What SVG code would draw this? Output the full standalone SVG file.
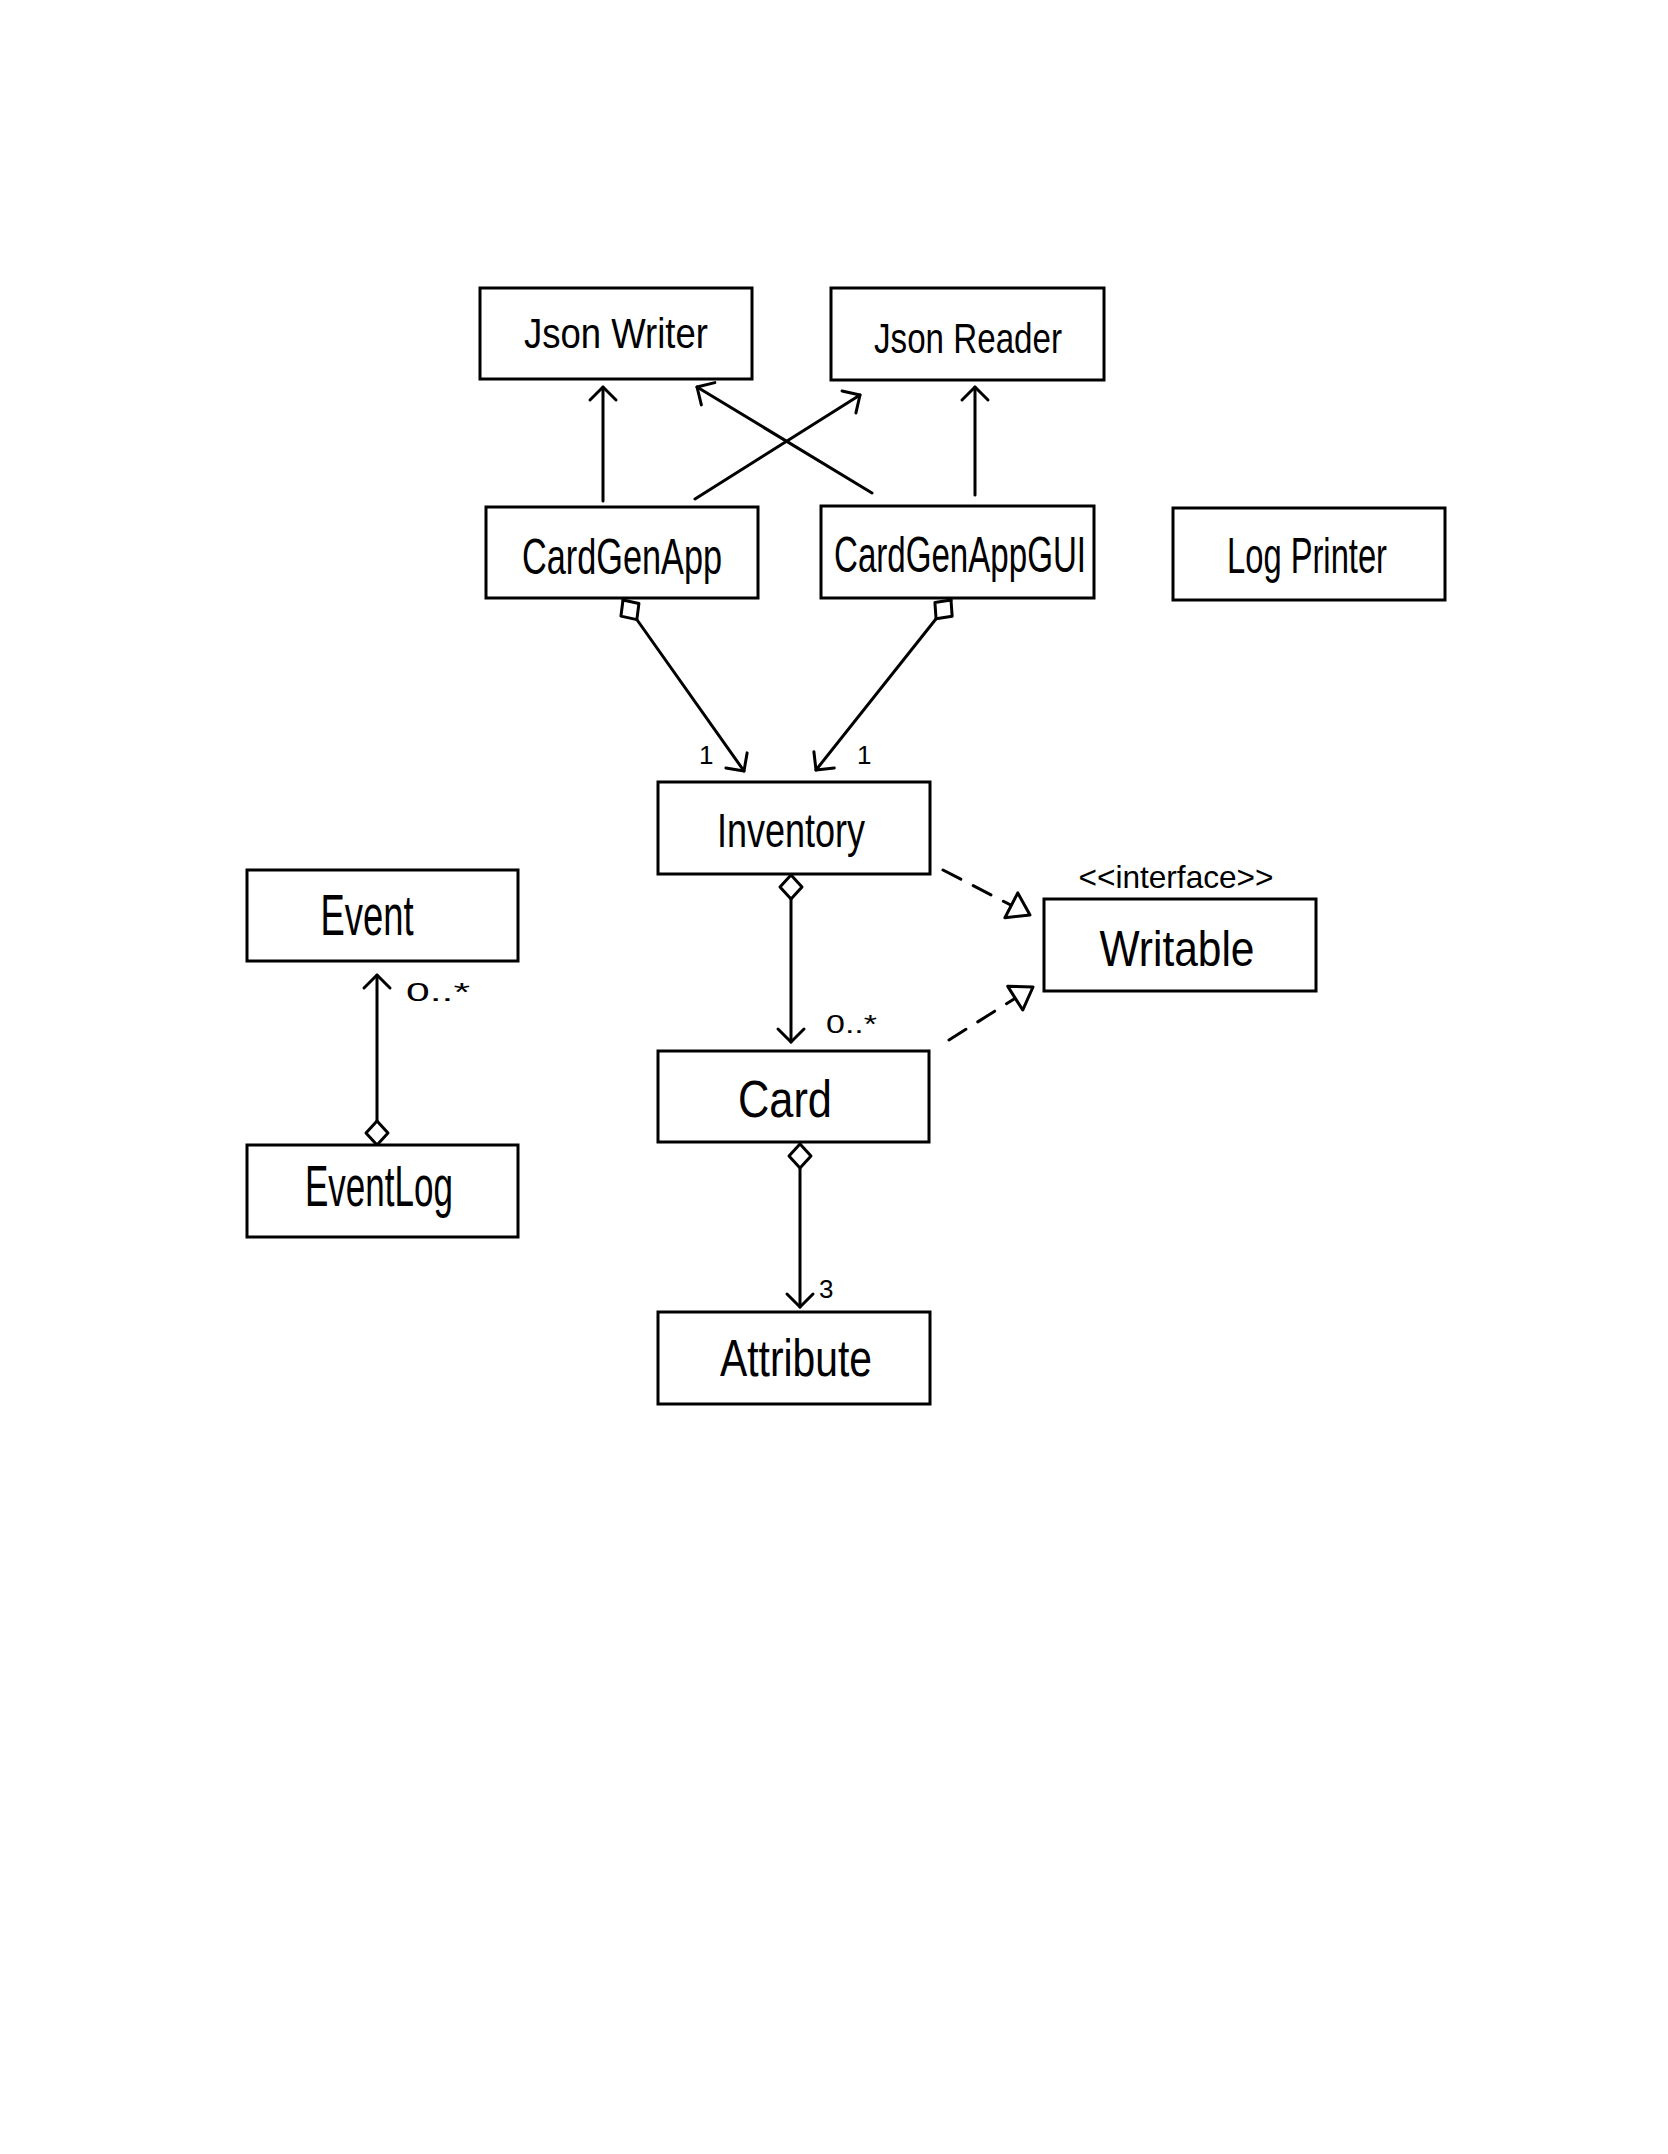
<svg xmlns="http://www.w3.org/2000/svg" width="1668" height="2154" viewBox="0 0 1668 2154">
<style>
.box{fill:#fff;stroke:#000;stroke-width:3}
.lbl{font-family:"Liberation Sans",Arial,sans-serif;text-anchor:middle;fill:#000}
.conn{fill:none;stroke:#000;stroke-width:3;stroke-linecap:round}
.dash{stroke-dasharray:20 14}
.mult{font-family:"Liberation Sans",Arial,sans-serif;font-size:26px;fill:#000}
</style>
<defs>
<marker id="open" markerUnits="userSpaceOnUse" markerWidth="40" markerHeight="40" viewBox="-20 -20 40 40" refX="0" refY="0" orient="auto">
<path d="M-13,-13 L0,0 L-13,13" fill="none" stroke="#000" stroke-width="3" stroke-linecap="round" stroke-linejoin="round"/>
</marker>
<marker id="tri" markerUnits="userSpaceOnUse" markerWidth="50" markerHeight="50" viewBox="-25 -25 50 50" refX="0" refY="0" orient="auto">
<path d="M0,0 L-21,-14 L-21,14 Z" fill="#fff" stroke="#000" stroke-width="3" stroke-linejoin="round"/>
</marker>
<marker id="dia" markerUnits="userSpaceOnUse" markerWidth="40" markerHeight="40" viewBox="-5 -20 40 40" refX="0" refY="0" orient="auto">
<path d="M0,0 L12,-11 L24,0 L12,11 Z" fill="#fff" stroke="#000" stroke-width="3" stroke-linejoin="round"/>
</marker>
</defs>
<rect width="1668" height="2154" fill="#fff"/>

<g id="connectors">
<path class="conn" d="M603,501 L603,387" marker-end="url(#open)"/>
<path class="conn" d="M695,499 L860,395" marker-end="url(#open)"/>
<path class="conn" d="M872,493 L697,387" marker-end="url(#open)"/>
<path class="conn" d="M975,495 L975,387" marker-end="url(#open)"/>
<path class="conn" d="M623,600 L744,771" marker-start="url(#dia)" marker-end="url(#open)"/>
<path class="conn" d="M951,600 L816,770" marker-start="url(#dia)" marker-end="url(#open)"/>
<path class="conn" d="M791,875 L791,1042" marker-start="url(#dia)" marker-end="url(#open)"/>
<path class="conn" d="M800,1144 L800,1307" marker-start="url(#dia)" marker-end="url(#open)"/>
<path class="conn" d="M377,1145 L377,975" marker-start="url(#dia)" marker-end="url(#open)"/>
<path class="conn dash" d="M943,870 L1030,915" marker-end="url(#tri)"/>
<path class="conn dash" d="M949,1040 L1033,987" marker-end="url(#tri)"/>
<text class="mult" x="699" y="764" font-size="18">1</text>
<text class="mult" x="857" y="764" font-size="18">1</text>
<text class="mult" x="826" y="1033" textLength="51" lengthAdjust="spacingAndGlyphs">0..*</text>
<text class="mult" x="819" y="1298" font-size="24">3</text>
<text class="mult" x="406" y="1001" textLength="64" lengthAdjust="spacingAndGlyphs">0..*</text>
</g>

<g id="JsonWriter">
<rect class="box" x="480" y="288" width="272" height="91"/>
<text class="lbl" x="616" y="348" font-size="42" textLength="184" lengthAdjust="spacingAndGlyphs">Json Writer</text>
</g>
<g id="JsonReader">
<rect class="box" x="831" y="288" width="273" height="92"/>
<text class="lbl" x="968" y="353" font-size="42" textLength="188" lengthAdjust="spacingAndGlyphs">Json Reader</text>
</g>
<g id="CardGenApp">
<rect class="box" x="486" y="507" width="272" height="91"/>
<text class="lbl" x="622" y="574" font-size="50" textLength="200" lengthAdjust="spacingAndGlyphs">CardGenApp</text>
</g>
<g id="CardGenAppGUI">
<rect class="box" x="821" y="506" width="273" height="92"/>
<text class="lbl" x="960" y="572" font-size="50" textLength="252" lengthAdjust="spacingAndGlyphs">CardGenAppGUI</text>
</g>
<g id="LogPrinter">
<rect class="box" x="1173" y="508" width="272" height="92"/>
<text class="lbl" x="1307" y="573" font-size="50" textLength="160" lengthAdjust="spacingAndGlyphs">Log Printer</text>
</g>
<g id="Inventory">
<rect class="box" x="658" y="782" width="272" height="92"/>
<text class="lbl" x="791" y="847" font-size="48" textLength="148" lengthAdjust="spacingAndGlyphs">Inventory</text>
</g>
<g id="Writable">
<text class="lbl" x="1176" y="888" font-size="32" textLength="195" lengthAdjust="spacingAndGlyphs">&lt;&lt;interface&gt;&gt;</text>
<rect class="box" x="1044" y="899" width="272" height="92"/>
<text class="lbl" x="1177" y="966" font-size="50" textLength="155" lengthAdjust="spacingAndGlyphs">Writable</text>
</g>
<g id="Event">
<rect class="box" x="247" y="870" width="271" height="91"/>
<text class="lbl" x="367" y="935" font-size="58" textLength="93" lengthAdjust="spacingAndGlyphs">Event</text>
</g>
<g id="Card">
<rect class="box" x="658" y="1051" width="271" height="91"/>
<text class="lbl" x="785" y="1117" font-size="52" textLength="94" lengthAdjust="spacingAndGlyphs">Card</text>
</g>
<g id="EventLog">
<rect class="box" x="247" y="1145" width="271" height="92"/>
<text class="lbl" x="379" y="1206" font-size="58" textLength="148" lengthAdjust="spacingAndGlyphs">EventLog</text>
</g>
<g id="Attribute">
<rect class="box" x="658" y="1312" width="272" height="92"/>
<text class="lbl" x="796" y="1376" font-size="52" textLength="152" lengthAdjust="spacingAndGlyphs">Attribute</text>
</g>
</svg>
